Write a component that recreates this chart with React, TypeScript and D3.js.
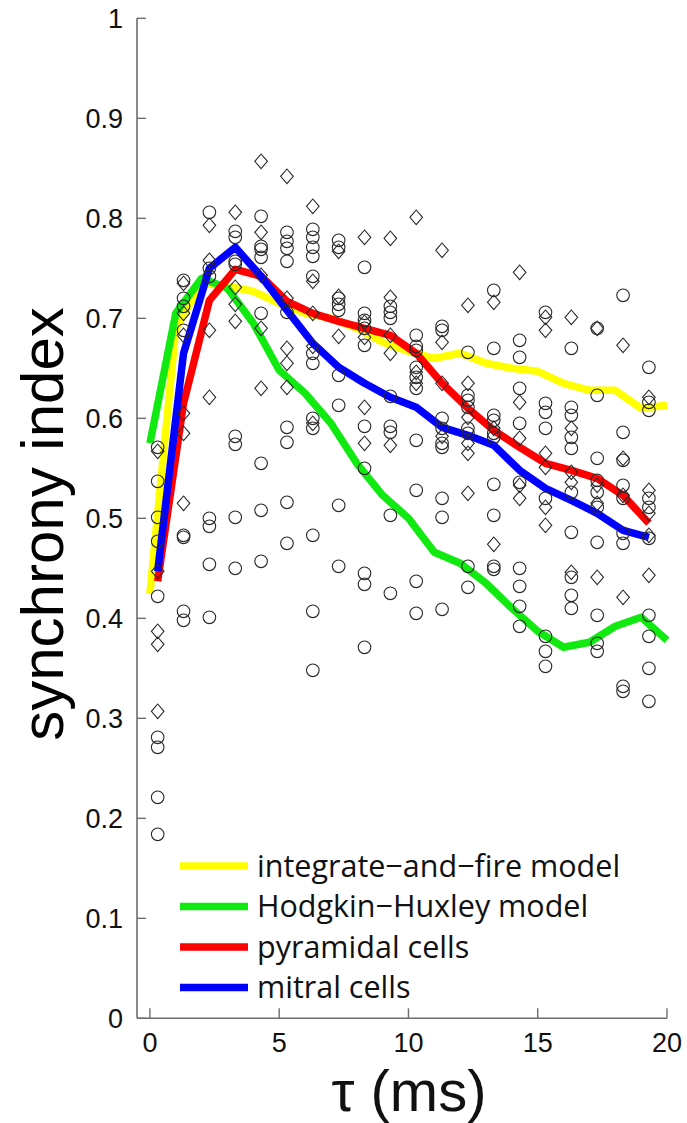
import React from "react";
import * as d3 from "d3";

const W = 687;
const H = 1123;

// Scatter columns (tau in ms)
const tauColumns = [0.3, 1.3, 2.3, 3.3, 4.3, 5.3, 6.3, 7.3, 8.3, 9.3, 10.3, 11.3, 12.3, 13.3, 14.3, 15.3, 16.3, 17.3, 18.3, 19.3];

// Circle markers, per column
const circleValues = [
  [0.571, 0.537, 0.501, 0.477, 0.422, 0.281, 0.271, 0.221, 0.184],
  [0.738, 0.72, 0.712, 0.688, 0.483, 0.481, 0.407, 0.398],
  [0.806, 0.75, 0.742, 0.5, 0.492, 0.454, 0.401],
  [0.787, 0.781, 0.757, 0.754, 0.582, 0.574, 0.501, 0.45],
  [0.802, 0.772, 0.769, 0.761, 0.705, 0.555, 0.508, 0.457],
  [0.786, 0.777, 0.77, 0.757, 0.706, 0.591, 0.576, 0.516, 0.475],
  [0.789, 0.781, 0.771, 0.762, 0.742, 0.665, 0.655, 0.6, 0.59, 0.483, 0.407, 0.348],
  [0.778, 0.771, 0.72, 0.714, 0.708, 0.643, 0.613, 0.513, 0.452],
  [0.751, 0.705, 0.698, 0.69, 0.673, 0.592, 0.55, 0.445, 0.434, 0.371],
  [0.712, 0.706, 0.7, 0.622, 0.592, 0.586, 0.503, 0.425],
  [0.683, 0.672, 0.668, 0.651, 0.641, 0.63, 0.578, 0.528, 0.437, 0.405],
  [0.692, 0.688, 0.6, 0.59, 0.575, 0.571, 0.52, 0.501, 0.409],
  [0.666, 0.623, 0.618, 0.611, 0.59, 0.585, 0.452, 0.431],
  [0.728, 0.67, 0.603, 0.598, 0.585, 0.581, 0.534, 0.503, 0.452, 0.449],
  [0.678, 0.661, 0.63, 0.595, 0.536, 0.45, 0.432, 0.412, 0.392],
  [0.706, 0.615, 0.606, 0.59, 0.52, 0.382, 0.367, 0.352],
  [0.67, 0.611, 0.603, 0.581, 0.57, 0.526, 0.486, 0.441, 0.423, 0.41],
  [0.69, 0.623, 0.56, 0.538, 0.526, 0.511, 0.476, 0.403, 0.375, 0.367],
  [0.723, 0.586, 0.558, 0.533, 0.52, 0.485, 0.475, 0.332, 0.327],
  [0.651, 0.616, 0.608, 0.52, 0.511, 0.48, 0.403, 0.382, 0.35, 0.317],
];

// Diamond markers, per column
const diamondValues = [
  [0.567, 0.447, 0.387, 0.374, 0.307],
  [0.735, 0.705, 0.683, 0.605, 0.585, 0.515],
  [0.793, 0.758, 0.688, 0.621],
  [0.806, 0.731, 0.714, 0.697],
  [0.857, 0.786, 0.743, 0.69, 0.63],
  [0.842, 0.72, 0.67, 0.655, 0.631],
  [0.812, 0.737, 0.705, 0.672, 0.595],
  [0.767, 0.722, 0.682],
  [0.781, 0.696, 0.681, 0.611, 0.575],
  [0.78, 0.721, 0.683, 0.665, 0.573],
  [0.801, 0.646, 0.635],
  [0.768, 0.676, 0.635, 0.582],
  [0.713, 0.635, 0.601, 0.575, 0.565, 0.525],
  [0.716, 0.59, 0.474],
  [0.746, 0.616, 0.58, 0.533, 0.52],
  [0.701, 0.688, 0.565, 0.551, 0.511, 0.493],
  [0.701, 0.59, 0.546, 0.536, 0.446],
  [0.69, 0.533, 0.515, 0.441],
  [0.673, 0.56, 0.523, 0.421],
  [0.621, 0.528, 0.505, 0.483, 0.443],
];

// Model curves
const modelTau = [0, 1, 2, 3, 4, 5, 6, 7, 8, 9, 10, 11, 12, 13, 14, 15, 16, 17, 18, 19, 20];
const integrateFire = [0.425, 0.69, 0.735, 0.732, 0.727, 0.715, 0.705, 0.7, 0.69, 0.676, 0.667, 0.66, 0.665, 0.655, 0.65, 0.647, 0.635, 0.628, 0.628, 0.61, 0.613];
const hodgkinHuxley = [0.575, 0.705, 0.74, 0.73, 0.695, 0.648, 0.625, 0.595, 0.555, 0.523, 0.5, 0.466, 0.455, 0.435, 0.41, 0.387, 0.371, 0.376, 0.392, 0.401, 0.378];
// Experimental means at scatter columns
const pyramidal = [0.437, 0.615, 0.718, 0.749, 0.742, 0.717, 0.705, 0.697, 0.69, 0.683, 0.665, 0.635, 0.61, 0.588, 0.571, 0.555, 0.548, 0.54, 0.523, 0.495];
const mitral = [0.447, 0.665, 0.75, 0.771, 0.742, 0.708, 0.675, 0.651, 0.635, 0.621, 0.611, 0.591, 0.583, 0.573, 0.548, 0.53, 0.518, 0.505, 0.488, 0.481];

const legendLabels = ["integrate\u2212and\u2212fire model", "Hodgkin\u2212Huxley model", "pyramidal cells", "mitral cells"];
const seriesColors = ["#ffff00", "#11ea11", "#ff0000", "#0000ff"];

const yTicks = [0, 0.1, 0.2, 0.3, 0.4, 0.5, 0.6, 0.7, 0.8, 0.9, 1];
const xTicks = [0, 5, 10, 15, 20];

export default function App() {
  const x = d3.scaleLinear().domain([-0.5, 20]).range([137, 667]);
  const y = d3.scaleLinear().domain([0, 1]).range([1018.3, 18.3]);

  const line = d3
    .line<[number, number]>()
    .x((d) => x(d[0]))
    .y((d) => y(d[1]));

  const series = [
    { xs: modelTau, ys: integrateFire },
    { xs: modelTau, ys: hodgkinHuxley },
    { xs: tauColumns, ys: pyramidal },
    { xs: tauColumns, ys: mitral },
  ];

  const axisColor = "#6e6e6e";
  const markerStroke = "#2a2a2a";
  const legendFont = "'Open Sans', 'Noto Sans', sans-serif";
  const tickFont = "'Liberation Sans', Arial, sans-serif";

  const diamondPath = (cx: number, cy: number) =>
    `M${cx},${cy - 7.3}L${cx + 6.3},${cy}L${cx},${cy + 7.3}L${cx - 6.3},${cy}Z`;

  return (
    <svg
      width={W}
      height={H}
      viewBox={`0 0 ${W} ${H}`}
      style={{ position: "absolute", left: 0, top: 0, background: "#fff" }}
    >
      {/* axes */}
      <line x1={137} x2={137} y1={y(1)} y2={y(0)} stroke={axisColor} strokeWidth={1.6} />
      <line x1={137} x2={x(20)} y1={y(0)} y2={y(0)} stroke={axisColor} strokeWidth={1.6} />
      {yTicks.map((t) => (
        <g key={"yt" + t}>
          <line x1={137} x2={146} y1={y(t)} y2={y(t)} stroke={axisColor} strokeWidth={1.4} />
          <text
            x={123}
            y={y(t)}
            dy="0.35em"
            textAnchor="end"
            fontFamily={tickFont}
            fontSize={27}
            fill="#111"
          >
            {String(t)}
          </text>
        </g>
      ))}
      {xTicks.map((t) => (
        <g key={"xt" + t}>
          <line x1={x(t)} x2={x(t)} y1={y(0)} y2={y(0) - 10} stroke={axisColor} strokeWidth={1.4} />
          <text
            x={x(t)}
            y={1043}
            dy="0.35em"
            textAnchor="middle"
            fontFamily={tickFont}
            fontSize={27}
            fill="#111"
          >
            {String(t)}
          </text>
        </g>
      ))}

      {/* curves */}
      {series.map((s, i) => (
        <path
          key={"s" + i}
          d={line(s.xs.map((v, j) => [v, s.ys[j]] as [number, number])) || ""}
          fill="none"
          stroke={seriesColors[i]}
          strokeWidth={7.5}
          strokeLinejoin="round"
        />
      ))}

      {/* markers */}
      {tauColumns.map((t, ci) => (
        <g key={"col" + ci}>
          {circleValues[ci].map((v, k) => (
            <circle
              key={"c" + k}
              cx={x(t)}
              cy={y(v)}
              r={6.3}
              fill="none"
              stroke={markerStroke}
              strokeWidth={1.1}
            />
          ))}
          {diamondValues[ci].map((v, k) => (
            <path
              key={"d" + k}
              d={diamondPath(x(t), y(v))}
              fill="none"
              stroke={markerStroke}
              strokeWidth={1.1}
            />
          ))}
        </g>
      ))}

      {/* legend */}
      {legendLabels.map((lab, i) => (
        <g key={"lg" + i}>
          <line
            x1={180}
            x2={248}
            y1={866 + i * 40.5}
            y2={866 + i * 40.5}
            stroke={seriesColors[i]}
            strokeWidth={7.5}
          />
          <text
            x={257}
            y={866 + i * 40.5}
            dy="0.35em"
            fontFamily={legendFont}
            fontSize={30.5}
            fill="#111"
          >
            {lab}
          </text>
        </g>
      ))}

      {/* axis titles */}
      <text
        transform={`translate(63,524) rotate(-90)`}
        textAnchor="middle"
        fontFamily="'Liberation Sans', Arial, sans-serif"
        fontSize={60}
        fill="#000"
      >
        synchrony index
      </text>
      <text
        x={409}
        y={1111}
        textAnchor="middle"
        fontFamily={tickFont}
        fontSize={58}
        fill="#111"
      >
        {"\u03c4 (ms)"}
      </text>
    </svg>
  );
}
